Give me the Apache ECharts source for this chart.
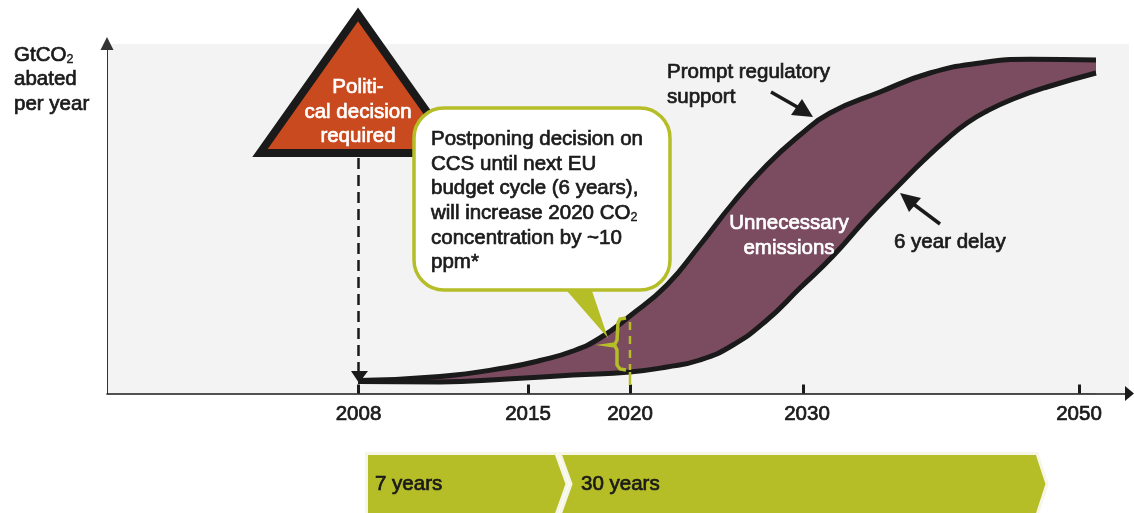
<!DOCTYPE html>
<html>
<head>
<meta charset="utf-8">
<title>CCS decision delay</title>
<style>
  html, body { margin: 0; padding: 0; background: #fff; }
  #chart { width: 1134px; height: 513px; }
</style>
<script src="https://cdn.jsdelivr.net/npm/echarts@6/dist/echarts.min.js"></script>
</head>
<body>
<div id="chart"></div>
<script>
// the time axis of the original is not linear, so x is a position along the axis
const tickPositions = [251.5, 421, 523, 696, 972];
const tickLabels = ['2008', '2015', '2020', '2030', '2050'];

// prompt regulatory support: [position, GtCO2 (arbitrary height)]
const promptPositions = [251, 333, 400, 433, 466, 493, 523, 560, 593, 626, 660, 693, 723, 773, 823, 873, 923, 989];
const promptValues = [13, 17, 26, 33, 42.5, 55.5, 77.5, 108.5, 148.5, 190.5, 228.5, 258.5, 280.5, 301.5, 320.5, 330.5, 334.2, 333.5];

// 6 year delay
const delayPositions = [251, 333, 400, 466, 523, 560, 593, 626, 660, 693, 726, 760, 793, 816, 840, 860, 880, 906, 940, 989];
const delayValues = [12, 11.5, 14.5, 18.5, 21.5, 26.5, 33.5, 48.5, 73.5, 105.5, 137.5, 175.5, 209.5, 232.5, 254.5, 270.5, 282.5, 294.5, 306.5, 320.5];

const dark = '#1a1a1a';
const purple = '#7b4b60';
const plotBg = '#f3f3f3';
const green = '#b5bd27';
const fontFamily = '"Liberation Sans", Arial, sans-serif';
const fontSize = 20.5;
const lineStep = 24.6;
const textWeight = 0.7;

function pairs(xs, ys) {
  return xs.map((x, i) => [x, ys[i]]);
}

function label(x, y, text, fill, align) {
  return {
    type: 'text',
    z: 20,
    x: x,
    y: y,
    style: {
      text: text,
      fill: fill || dark,
      stroke: fill || dark,
      lineWidth: textWeight,
      align: align || 'left',
      verticalAlign: 'top',
      fontFamily: fontFamily,
      fontSize: fontSize,
      lineHeight: lineStep
    }
  };
}

const subRich = {
  t: { fontFamily: fontFamily, fontSize: fontSize, lineHeight: lineStep, fill: dark, stroke: dark, lineWidth: textWeight, verticalAlign: 'bottom' },
  s: { fontFamily: fontFamily, fontSize: 12.5, lineHeight: 11, fill: dark, stroke: dark, lineWidth: 0.4, verticalAlign: 'bottom' }
};

const chart = echarts.init(document.getElementById('chart'), null, { renderer: 'canvas' });

chart.setOption({
  animation: false,
  backgroundColor: '#fff',
  textStyle: { fontFamily: fontFamily },
  grid: { left: 107, right: 4.5, top: 43.5, bottom: 119.5 },
  xAxis: {
    type: 'value',
    z: 5,
    min: 0,
    max: 1022.5,
    splitLine: { show: false },
    axisLine: {
      symbol: ['none', 'triangle'],
      symbolSize: [15, 9],
      lineStyle: { color: dark, width: 1.5 }
    },
    axisTick: {
      inside: true,
      length: 9,
      customValues: tickPositions,
      lineStyle: { color: dark, width: 3 }
    },
    axisLabel: {
      customValues: tickPositions,
      margin: 10,
      color: dark,
      fontSize: fontSize,
      textBorderColor: dark,
      textBorderWidth: textWeight,
      formatter: (value) => {
        const text = tickLabels[tickPositions.indexOf(value)];
        return text === '2030' ? '{nudge|' + text + '}' : text;
      },
      rich: {
        nudge: { fontSize: fontSize, color: dark, textBorderColor: dark, textBorderWidth: textWeight, padding: [0, 0, 0, 8] }
      }
    }
  },
  yAxis: {
    type: 'value',
    min: 0,
    max: 350,
    splitLine: { show: false },
    axisTick: { show: false },
    axisLabel: { show: false },
    axisLine: {
      show: true,
      symbol: ['none', 'triangle'],
      symbolSize: [13, 13],
      lineStyle: { color: '#333', width: 1 }
    }
  },
  series: [
    {
      name: 'Prompt regulatory support',
      type: 'line',
      z: 2,
      smooth: 0.5,
      symbol: 'none',
      data: pairs(promptPositions, promptValues),
      lineStyle: { color: dark, width: 5 },
      areaStyle: { color: purple, opacity: 1 }
    },
    {
      name: '6 year delay',
      type: 'line',
      z: 3,
      smooth: 0.5,
      symbol: 'none',
      data: pairs(delayPositions, delayValues),
      lineStyle: { color: dark, width: 5 },
      areaStyle: { color: plotBg, opacity: 1 }
    }
  ],
  graphic: { elements: [
    // plot background
    { type: 'rect', z: -1, shape: { x: 108, y: 44, width: 1021, height: 349 }, style: { fill: plotBg } },

    // political decision triangle
    { type: 'polygon', z: 10, shape: { points: [[358, 14.5], [260, 153], [456, 153]] },
      style: { fill: '#c84a1e', stroke: dark, lineWidth: 8, lineJoin: 'miter' } },
    label(358, 75, 'Politi-\ncal decision\nrequired', '#fff', 'center'),

    // dashed drop line to 2008
    { type: 'line', z: 10, shape: { x1: 358.5, y1: 158, x2: 358.5, y2: 372 },
      style: { stroke: dark, lineWidth: 2.5, lineDash: [11, 6] } },
    { type: 'polygon', z: 10, shape: { points: [[351, 371], [368, 371], [359, 383]] }, style: { fill: dark } },

    // callout
    { type: 'rect', z: 11, shape: { x: 414, y: 108, width: 256, height: 182, r: 30 },
      style: { fill: '#fff', stroke: green, lineWidth: 3.5 } },
    { type: 'polygon', z: 12, shape: { points: [[567, 291], [592, 291], [608, 338]] }, style: { fill: green } },
    { type: 'text', z: 20, x: 431, y: 125.5, style: {
      text: '{t|Postponing decision on}\n{t|CCS until next EU}\n{t|budget cycle (6 years),}\n{t|will increase 2020 CO}{s|2}\n{t|concentration by ~10}\n{t|ppm*}',
      rich: subRich, fill: dark, align: 'left', verticalAlign: 'top', fontFamily: fontFamily, fontSize: fontSize } },

    // brace and 2020 marker
    { type: 'polyline', z: 12, shape: { points: [[626, 318], [620, 319], [618, 323], [617, 340], [615, 344], [608, 345], [615, 346], [617, 350], [617, 365], [620, 369], [626, 370]] },
      style: { stroke: green, lineWidth: 3.5, fill: null } },
    { type: 'line', z: 12, shape: { x1: 630, y1: 322, x2: 630, y2: 370 },
      style: { stroke: green, lineWidth: 2.5, lineDash: [8, 6] } },
    { type: 'line', z: 12, shape: { x1: 630, y1: 372, x2: 630, y2: 385 },
      style: { stroke: green, lineWidth: 2.5 } },

    // annotations on the curves
    { type: 'line', z: 12, shape: { x1: 771, y1: 92, x2: 799, y2: 108 }, style: { stroke: dark, lineWidth: 3.5 } },
    { type: 'polygon', z: 12, shape: { points: [[813, 117], [791, 115], [802, 99]] }, style: { fill: dark } },
    { type: 'line', z: 12, shape: { x1: 940, y1: 224, x2: 912, y2: 203 }, style: { stroke: dark, lineWidth: 3.5 } },
    { type: 'polygon', z: 12, shape: { points: [[900, 193], [909, 212], [921, 198]] }, style: { fill: dark } },

    label(667, 60, 'Prompt regulatory\nsupport'),
    label(894, 230, '6 year delay'),
    label(789, 211, 'Unnecessary\nemissions', '#fff', 'center'),

    // y axis title
    { type: 'text', z: 20, x: 14, y: 41, style: {
      text: '{t|GtCO}{s|2}\n{t|abated}\n{t|per year}',
      rich: subRich, fill: dark, align: 'left', verticalAlign: 'top', fontFamily: fontFamily, fontSize: fontSize } },

    // period arrows
    { type: 'polygon', z: 10, shape: { points: [[366.5, 453.5], [556, 453.5], [567, 484], [556, 515], [366.5, 515]] },
      style: { fill: green, stroke: '#f6f6e6', lineWidth: 3 } },
    { type: 'polygon', z: 10, shape: { points: [[560, 453.5], [1037, 453.5], [1047, 484], [1037, 515], [560, 515], [571, 484]] },
      style: { fill: green, stroke: '#f6f6e6', lineWidth: 3 } },
    label(375, 472, '7 years'),
    label(581, 472, '30 years')
  ] }
});
</script>
</body>
</html>
